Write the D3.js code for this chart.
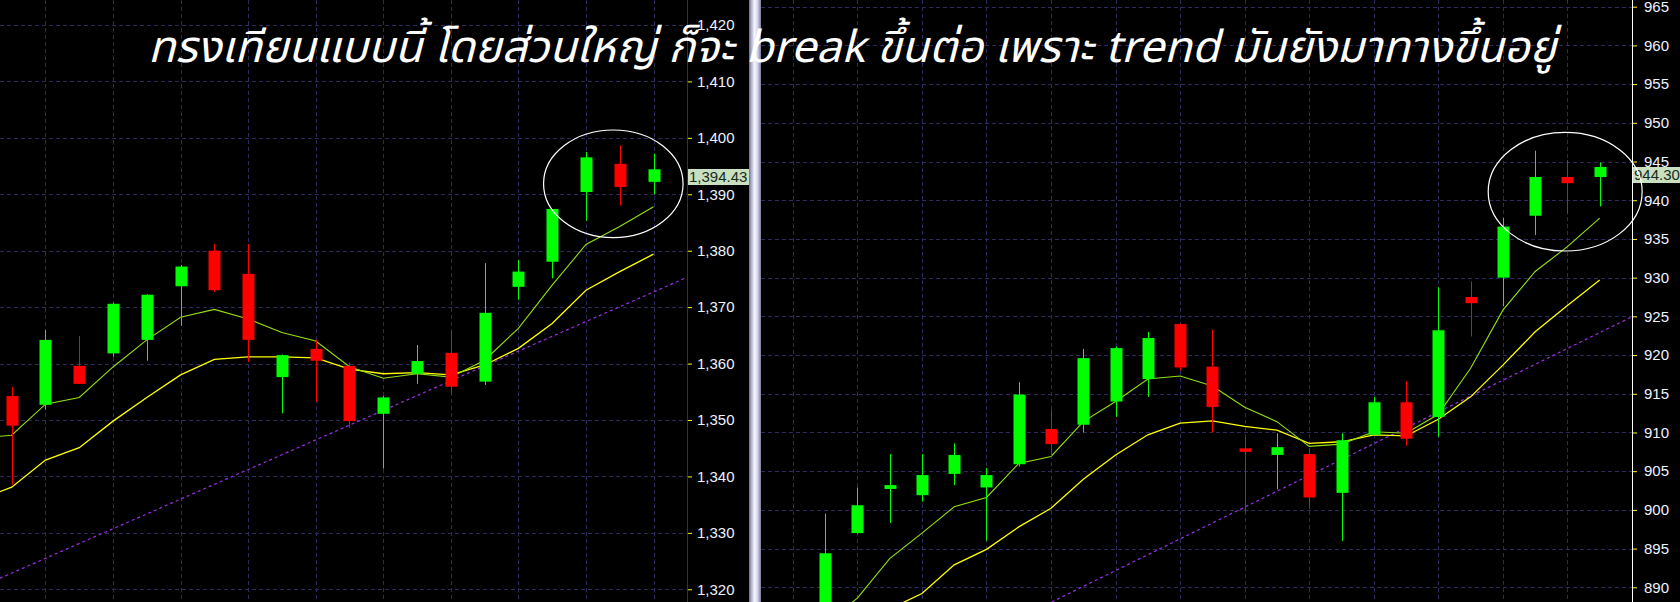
<!DOCTYPE html>
<html>
<head>
<meta charset="utf-8">
<script src="https://cdn.jsdelivr.net/npm/d3@7"></script>
<style>
  body { margin: 0; background: #000; overflow: hidden; }
  svg { display: block; }
</style>
</head>
<body>
<div id="chart"></div>
<script>
// ---- left chart (index, 20 bars) ----
var leftOpen  = [1354.25, 1352.7, 1359.6, 1361.8, 1364.2, 1373.7, 1380.0, 1375.9, 1357.6, 1362.6, 1359.6, 1351.1, 1358.2, 1361.9, 1356.8, 1373.6, 1378.05, 1390.4, 1395.4, 1392.2];
var leftHigh  = [1355.85, 1365.95, 1364.9, 1370.8, 1372.3, 1377.5, 1381.2, 1381.2, 1361.6, 1364.2, 1360.2, 1354.25, 1363.3, 1365.8, 1377.8, 1378.35, 1387.4, 1397.5, 1398.7, 1397.2];
var leftLow   = [1338.5, 1351.8, 1356.4, 1361.2, 1360.5, 1366.7, 1372.7, 1360.3, 1351.2, 1353.2, 1348.6, 1341.4, 1356.4, 1354.6, 1356.2, 1371.3, 1375.1, 1385.3, 1388.0, 1390.0];
var leftClose = [1349.0, 1364.2, 1356.4, 1370.6, 1372.2, 1377.2, 1373.0, 1364.2, 1361.5, 1360.5, 1349.8, 1354.0, 1360.45, 1355.9, 1369.0, 1376.3, 1387.4, 1396.55, 1391.3, 1394.43];
// moving averages start one bar earlier (off screen)
var leftMAfast = [1346.8, 1347.3, 1352.8, 1354.0, 1359.4, 1364.2, 1368.2, 1369.6, 1367.9, 1365.5, 1364.0, 1359.45, 1357.4, 1358.2, 1357.6, 1360.6, 1366.25, 1373.9, 1381.1, 1384.3, 1387.8];
var leftMAslow = [1335.8, 1338.1, 1342.9, 1345.1, 1349.8, 1354.0, 1358.0, 1360.75, 1361.2, 1361.2, 1361.0, 1359.0, 1358.2, 1358.4, 1358.0, 1359.75, 1362.7, 1367.1, 1373.0, 1376.3, 1379.4];
var leftTicks = [1320, 1330, 1340, 1350, 1360, 1370, 1380, 1390, 1400, 1410, 1420];
var leftTrend = [[-0.35, 1321.95], [19.92, 1375.1]];   // [bar, price]
var leftCircle = { bar: 17.81, price: 1391.86, bars: 2.065, points: 9.53 };

// ---- right chart (stock, 25 bars) ----
var rightOpen  = [887.0, 897.0, 902.7, 901.9, 904.65, 902.9, 905.9, 910.45, 911.0, 914.0, 916.9, 924.0, 918.5, 907.95, 907.1, 907.2, 902.2, 909.7, 913.9, 912.0, 927.5, 930.0, 938.0, 943.0, 943.0];
var rightHigh  = [899.5, 902.9, 907.2, 907.2, 908.6, 905.4, 916.5, 912.9, 920.8, 921.1, 923.0, 924.1, 923.3, 909.45, 909.9, 908.0, 909.9, 914.6, 916.65, 928.75, 929.5, 937.7, 946.4, 945.2, 944.9];
var rightLow   = [885.0, 896.9, 898.3, 901.05, 903.2, 896.0, 905.6, 906.9, 910.0, 912.0, 914.6, 918.0, 910.0, 899.6, 902.65, 900.1, 896.0, 909.7, 908.3, 909.45, 922.4, 926.3, 935.5, 938.2, 939.2];
var rightClose = [894.4, 900.6, 903.2, 904.5, 907.1, 904.5, 914.9, 908.5, 919.6, 920.9, 922.2, 918.4, 913.3, 907.5, 908.1, 901.6, 909.0, 913.9, 909.2, 923.2, 926.7, 936.6, 943.0, 942.2, 944.3];
var rightMAfast = [885.3, 888.6, 893.7, 897.0, 900.4, 901.6, 906.0, 906.9, 911.4, 914.0, 916.9, 917.3, 916.0, 913.25, 911.4, 908.2, 908.5, 910.1, 909.9, 912.35, 918.3, 925.8, 930.8, 934.0, 937.7];
var rightMAslow = [null, null, 887.2, 889.2, 892.9, 894.9, 897.8, 900.2, 903.95, 907.1, 909.7, 911.2, 911.5, 910.8, 910.3, 908.6, 908.8, 909.7, 909.55, 911.7, 914.6, 918.7, 923.0, 926.4, 929.7];
var rightTicks = [890, 895, 900, 905, 910, 915, 920, 925, 930, 935, 940, 945, 950, 955, 960, 965];
var rightTrend = [[7.02, 888.1], [25.0, 924.95]];
var rightCircle = { bar: 22.93, price: 941.1, bars: 2.385, points: 7.66 };

var title = "ทรงเทียนแบบนี้ โดยส่วนใหญ่ ก็จะ break ขึ้นต่อ เพราะ trend มันยังมาทางขึ้นอยู่";

var W = 1680, H = 602;
var up_col = "#00ff00", down_col = "#ff0000";
var grid_col = "#2b2b5e";

var svg = d3.select("#chart").append("svg")
  .attr("width", W)
  .attr("height", H);
svg.append("rect").attr("width", W).attr("height", H).attr("fill", "#000");

function drawPanel(p) {
  var g = svg.append("g");
  var x = d3.scaleLinear().domain([0, p.open.length - 1]).range(p.xRange);
  var y = d3.scaleLinear().domain(p.yDomain).range(p.yRange);

  g.append("clipPath").attr("id", p.id + "-clip")
    .append("rect")
    .attr("x", p.left).attr("y", 0)
    .attr("width", p.axisX - p.left).attr("height", H);

  var plot = g.append("g").attr("clip-path", "url(#" + p.id + "-clip)");

  // grid
  plot.selectAll(".hgrid")
    .data(p.ticks)
    .enter().append("line")
    .attr("x1", p.left).attr("x2", p.axisX)
    .attr("y1", function (d) { return Math.round(y(d)) + 0.5; })
    .attr("y2", function (d) { return Math.round(y(d)) + 0.5; })
    .attr("stroke", grid_col)
    .attr("stroke-dasharray", "4,3");

  var vbars = d3.range(-1, p.open.length + 1).filter(function (i) { return Math.abs(i % 2) == 1; });
  plot.selectAll(".vgrid")
    .data(vbars)
    .enter().append("line")
    .attr("x1", function (d) { return Math.round(x(d)) + 0.5; })
    .attr("x2", function (d) { return Math.round(x(d)) + 0.5; })
    .attr("y1", 0).attr("y2", H)
    .attr("stroke", grid_col)
    .attr("stroke-dasharray", "4,3");

  // trend line
  plot.append("line")
    .attr("x1", x(p.trend[0][0])).attr("y1", y(p.trend[0][1]))
    .attr("x2", x(p.trend[1][0])).attr("y2", y(p.trend[1][1]))
    .attr("stroke", "#9b2fe6")
    .attr("stroke-width", 1.2)
    .attr("stroke-dasharray", "3,3");

  // moving averages
  function maLine(vals, start, col, w) {
    var line = d3.line()
      .defined(function (d) { return d != null; })
      .x(function (d, i) { return x(i + start); })
      .y(function (d) { return y(d); });
    plot.append("path")
      .attr("d", line(vals))
      .attr("fill", "none")
      .attr("stroke", col)
      .attr("stroke-width", w);
  }
  maLine(p.maSlow, p.maStart, "#ffff00", 1.3);
  maLine(p.maFast, p.maStart, "#92e010", 1.1);

  // candles
  var bars = d3.range(p.open.length);
  var candle = plot.selectAll(".candle")
    .data(bars)
    .enter().append("g");
  candle.append("line")
    .attr("x1", function (i) { return Math.round(x(i)) + 0.5; })
    .attr("x2", function (i) { return Math.round(x(i)) + 0.5; })
    .attr("y1", function (i) { return y(p.high[i]); })
    .attr("y2", function (i) { return y(p.low[i]); })
    .attr("stroke", function (i) { return p.close[i] >= p.open[i] ? up_col : down_col; })
    .attr("stroke-width", 1);
  candle.append("rect")
    .attr("x", function (i) { return Math.round(x(i)) - 5.5; })
    .attr("width", 12)
    .attr("y", function (i) { return y(Math.max(p.open[i], p.close[i])); })
    .attr("height", function (i) { return Math.max(1.5, Math.abs(y(p.open[i]) - y(p.close[i]))); })
    .attr("fill", function (i) { return p.close[i] >= p.open[i] ? up_col : down_col; });

  // axis
  g.append("line")
    .attr("x1", p.axisX + 0.5).attr("x2", p.axisX + 0.5)
    .attr("y1", 0).attr("y2", H)
    .attr("stroke", p.axisCol);

  var ax = g.append("g")
    .attr("transform", "translate(" + (p.axisX + 1) + ",0)")
    .call(d3.axisRight(y).tickValues(p.ticks).tickSize(4).tickPadding(p.pad).tickFormat(d3.format(",")));
  ax.select(".domain").remove();
  ax.selectAll(".tick line").attr("stroke", "#ffff00");
  ax.selectAll("text")
    .attr("fill", "#eef2ff")
    .attr("font-family", "'Liberation Sans', Arial, sans-serif")
    .attr("font-size", 15);

  // last price tag
  var last = p.close[p.close.length - 1];
  g.append("rect")
    .attr("x", p.axisX + 1).attr("y", Math.round(y(last)))
    .attr("width", p.tagW).attr("height", 16)
    .attr("fill", "#c8e0c0");
  g.append("text")
    .attr("x", p.axisX + 2).attr("y", Math.round(y(last)) + 13)
    .attr("font-family", "'Liberation Sans', Arial, sans-serif")
    .attr("font-size", 15)
    .attr("fill", "#1a2a1a")
    .text(p.tagFmt(last));

  // annotation ellipse
  g.append("ellipse")
    .attr("cx", x(p.circle.bar))
    .attr("cy", y(p.circle.price))
    .attr("rx", x(p.circle.bars) - x(0))
    .attr("ry", y(p.yDomain[0]) - y(p.yDomain[0] + p.circle.points))
    .attr("fill", "none")
    .attr("stroke", "#ffffff")
    .attr("stroke-width", 1.2);
}

drawPanel({
  id: "left", left: 0, axisX: 687, tagW: 61, pad: 5,
  xRange: [11.7, 653.5], yDomain: [1320, 1420], yRange: [589.3, 25],
  open: leftOpen, high: leftHigh, low: leftLow, close: leftClose,
  maFast: leftMAfast, maSlow: leftMAslow, maStart: -1,
  ticks: leftTicks, trend: leftTrend, circle: leftCircle,
  axisCol: "#1a1aff", tagFmt: d3.format(",.2f")
});

drawPanel({
  id: "right", left: 761, axisX: 1632, tagW: 47, pad: 7,
  xRange: [825.1, 1599.7], yDomain: [890, 965], yRange: [587.3, 6.7],
  open: rightOpen, high: rightHigh, low: rightLow, close: rightClose,
  maFast: rightMAfast, maSlow: rightMAslow, maStart: 0,
  ticks: rightTicks, trend: rightTrend, circle: rightCircle,
  axisCol: "#ffffff", tagFmt: d3.format(".2f")
});

// splitter between the two windows
var grad = svg.append("defs").append("linearGradient").attr("id", "split");
[["0%", "#6c6c8c"], ["20%", "#b0b0d0"], ["45%", "#f6f6ff"], ["70%", "#d8d8ee"], ["100%", "#7a7a9a"]]
  .forEach(function (s) { grad.append("stop").attr("offset", s[0]).attr("stop-color", s[1]); });
svg.append("rect")
  .attr("x", 749).attr("y", 0)
  .attr("width", 12).attr("height", H)
  .attr("fill", "url(#split)");

// title
svg.append("text")
  .attr("x", 148)
  .attr("y", 62)
  .attr("fill", "#ffffff")
  .attr("font-style", "italic")
  .attr("font-family", "'Noto Sans Thai', 'Noto Sans', 'DejaVu Sans', sans-serif")
  .attr("font-size", 44)
  .attr("textLength", 1408)
  .attr("lengthAdjust", "spacingAndGlyphs")
  .text(title);
</script>
</body>
</html>
